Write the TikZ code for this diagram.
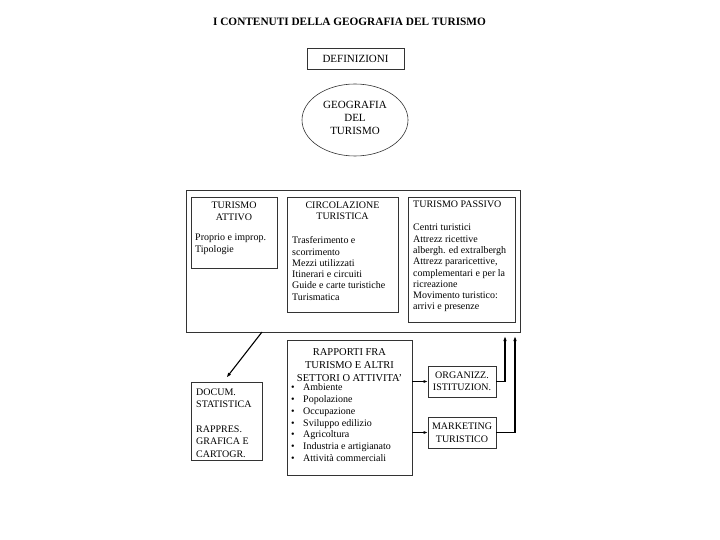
\documentclass[tikz,border=0pt]{standalone}
\usepackage{fontspec}
\setmainfont{Liberation Serif}
\usetikzlibrary{shapes.geometric,arrows.meta}
\begin{document}
\begin{tikzpicture}[x=1pt,y=-1pt,
  box/.style={draw=black!80, line width=0.7pt, inner sep=0pt},
  txt/.style={inner sep=0pt, font=\fontsize{10}{11.3}\selectfont},
  arr/.style={-{Latex[length=5pt,width=3.5pt]}, line width=1.1pt},
  thinarr/.style={-{Latex[length=4pt,width=3pt]}, line width=0.7pt}]
\useasboundingbox (0,0) rectangle (720,540);
% title
\node[inner sep=0pt, font=\bfseries\fontsize{11.3}{13}\selectfont] (title) at (349.5,22) {I CONTENUTI DELLA GEOGRAFIA DEL TURISMO};
% definizioni
\node[box, minimum width=97pt, minimum height=21pt, font=\fontsize{11}{13}\selectfont] (def) at (355.5,58.5) {DEFINIZIONI};
% ellipse
\node[draw=black!80, line width=0.6pt, ellipse, minimum width=106pt, minimum height=72pt, inner sep=0pt] (geo) at (355,120) {};
\node[inner sep=0pt, align=center, font=\fontsize{11}{13}\selectfont] (geot) at (355,117.5) {GEOGRAFIA\\DEL\\TURISMO};
% big box
\node[box, minimum width=334pt, minimum height=142pt] (main) at (353,261) {};
% turismo attivo
\node[box, minimum width=86pt, minimum height=71pt] (att) at (234,232.5) {};
\node[txt, align=center, anchor=north, font=\fontsize{10}{12}\selectfont] (attH) at (234,202) {TURISMO\\ATTIVO};
\node[txt, align=left, anchor=north west] (attB) at (195,234) {Proprio e improp.\\Tipologie};
% circolazione
\node[box, minimum width=111pt, minimum height=115pt] (circ) at (342.5,254.5) {};
\node[txt, align=center, anchor=north] (circH) at (342.5,201.5) {CIRCOLAZIONE\\TURISTICA};
\node[txt, align=left, anchor=north west] (circB) at (292,236.5) {Trasferimento e\\scorrimento\\Mezzi utilizzati\\Itinerari e circuiti\\Guide e carte turistiche\\Turismatica};
% turismo passivo
\node[box, minimum width=107pt, minimum height=125pt] (pas) at (461.5,259.5) {};
\node[txt, anchor=north west] (pasH) at (413,200.5) {TURISMO PASSIVO};
\node[txt, align=left, anchor=north west] (pasB) at (413,224) {Centri turistici\\Attrezz ricettive\\albergh. ed extralbergh\\Attrezz pararicettive,\\complementari e per la\\ricreazione\\Movimento turistico:\\arrivi e presenze};
% docum
\node[box, minimum width=71pt, minimum height=78pt] (doc) at (226.5,421) {};
\node[txt, align=left, anchor=north west, font=\fontsize{10}{12.4}\selectfont] (docT) at (196,388.5) {DOCUM.\\STATISTICA\\[12.4pt]RAPPRES.\\GRAFICA E\\CARTOGR.};
% rapporti
\node[box, minimum width=125pt, minimum height=135pt] (rap) at (349.5,407.5) {};
\node[txt, align=center, anchor=north, font=\fontsize{10.5}{13.2}\selectfont] (rapH) at (349.5,348) {RAPPORTI FRA\\TURISMO E ALTRI\\SETTORI O ATTIVITA'};
\node[txt, align=left, anchor=north west, font=\fontsize{10}{11.8}\selectfont] (rapB) at (291,383.5) {%
\makebox[12pt][l]{\textbullet}Ambiente\\
\makebox[12pt][l]{\textbullet}Popolazione\\
\makebox[12pt][l]{\textbullet}Occupazione\\
\makebox[12pt][l]{\textbullet}Sviluppo edilizio\\
\makebox[12pt][l]{\textbullet}Agricoltura\\
\makebox[12pt][l]{\textbullet}Industria e artigianato\\
\makebox[12pt][l]{\textbullet}Attività commerciali};
% organizz, marketing
\node[box, minimum width=68pt, minimum height=31pt, align=center, font=\fontsize{10}{12.5}\selectfont] (org) at (462,381.5) {ORGANIZZ.\\ISTITUZION.};
\node[box, minimum width=68pt, minimum height=31pt, align=center, font=\fontsize{10}{12.5}\selectfont] (mkt) at (462,432.5) {MARKETING\\TURISTICO};
% connectors
\draw[thinarr] (rap.east |- org.west) -- (org.west);
\draw[thinarr] (rap.east |- mkt.west) -- (mkt.west);
\coordinate (up1) at (505,336);
\coordinate (up2) at (515,336);
\draw[arr] (org.east) -| (up1);
\draw[arr] (mkt.east) -| (up2);
\coordinate (dstart) at (262,332);
\draw[arr] (dstart) -- ([yshift=4pt]doc.north);
\end{tikzpicture}
\end{document}
